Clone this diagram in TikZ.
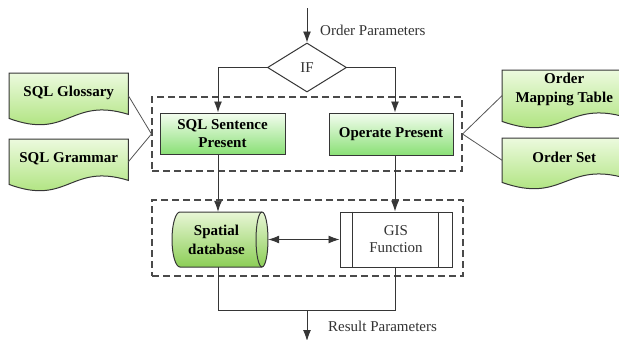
\documentclass[tikz,border=0pt]{standalone}
\usepackage{fontspec}
\setmainfont{Liberation Serif}
\usetikzlibrary{arrows.meta,shapes.geometric,backgrounds}

\definecolor{edge}{HTML}{363636}
\definecolor{ink}{HTML}{333333}
\definecolor{doctop}{RGB}{236,250,222}
\definecolor{docbot}{RGB}{160,222,104}
\definecolor{boxtop}{RGB}{244,253,240}
\definecolor{boxbot}{RGB}{138,224,118}
\definecolor{dbtop}{RGB}{232,246,214}
\definecolor{dbbot}{RGB}{140,206,86}

% document outline with a wavy lower edge, drawn round an invisible frame node
\newcommand\docoutline[1]{%
  \path[docshape] (#1.north west) -- (#1.north east) -- ([yshift=4pt]#1.south east)
    .. controls ([xshift=1.5pt,yshift=22pt]#1.south) and ([xshift=-0.5pt,yshift=-22pt]#1.south)
    .. (#1.south west) -- cycle;}

\begin{document}
\begin{tikzpicture}[x=1pt,y=-1pt,
  font=\fontsize{15}{18}\selectfont,
  line/.style={draw=edge, line width=0.9pt},
  arr/.style={line, -{Latex[length=11pt,width=8pt]}},
  darr/.style={line, {Latex[length=11pt,width=8pt]}-{Latex[length=11pt,width=8pt]}},
  thin/.style={draw=edge!85, line width=0.8pt},
  greenbox/.style={draw=edge, line width=1pt, top color=boxtop, bottom color=boxbot,
    font=\fontsize{15}{18}\selectfont\bfseries, align=center, inner sep=0pt},
  docframe/.style={inner sep=0pt, anchor=north west},
  doctext/.style={inner sep=0pt, align=center, font=\fontsize{15}{19}\selectfont\bfseries},
  docshape/.style={draw=edge, line width=1pt, top color=doctop, bottom color=docbot},
  dbshape/.style={draw=edge, line width=1pt, top color=dbtop, bottom color=dbbot},
  groupbox/.style={draw=edge!90, line width=1.1pt, dash pattern=on 7pt off 4pt, inner sep=0pt},
  plain/.style={text=ink, inner sep=0pt},
]
\useasboundingbox (0,0) rectangle (619,340);
\clip (0,0) rectangle (619,340);

% dashed groups
\node[groupbox, minimum width=310pt, minimum height=74pt] (g1) at (307,134) {};
\node[groupbox, minimum width=311pt, minimum height=76pt] (g2) at (307.5,238) {};

% decision
\node[diamond, draw=edge, line width=1pt, fill=white, minimum width=79pt,
  minimum height=49pt, inner sep=0pt, text=ink] (if) at (307,67.5) {IF};

% processing boxes
\node[greenbox, minimum width=125pt, minimum height=41pt] (sql) at (222.5,133.5) {SQL Sentence\\Present};
\node[greenbox, minimum width=124pt, minimum height=42pt] (op) at (391,134) {Operate Present};

% horizontal cylinder: rounded back on the left, open end on the right
\node[inner sep=0pt, minimum width=96pt, minimum height=55pt] (db) at (220,239.5) {};
\begin{scope}[shift={(db.center)}]
  \path[dbshape] (-40,-27.5) -- (42,-27.5)
    .. controls (45.31,-27.5) and (48,-15.19) .. (48,0)
    .. controls (48,15.19) and (45.31,27.5) .. (42,27.5)
    -- (-40,27.5)
    .. controls (-44.42,27.5) and (-48,15.19) .. (-48,0)
    .. controls (-48,-15.19) and (-44.42,-27.5) .. (-40,-27.5) -- cycle;
  \draw[draw=edge, line width=1pt] (42,-27.5)
    .. controls (38.69,-27.5) and (36,-15.19) .. (36,0)
    .. controls (36,15.19) and (38.69,27.5) .. (42,27.5);
\end{scope}
\node[inner sep=0pt, align=center, font=\fontsize{15}{19}\selectfont\bfseries]
  (db-t) at ([xshift=-3.5pt]db.center) {Spatial\\database};

\node[draw=edge, line width=1pt, fill=white, minimum width=112pt, minimum height=55pt,
  align=center, text=ink, inner sep=0pt, font=\fontsize{15}{17}\selectfont] (gis) at (396,239.5) {GIS\\Function};
\draw[line] ([xshift=13pt]gis.north west) -- ([xshift=13pt]gis.south west);
\draw[line] ([xshift=-14pt]gis.north east) -- ([xshift=-14pt]gis.south east);

% document frames
\node[docframe, minimum width=119pt, minimum height=45pt] (gloss) at (9,73) {};
\node[docframe, minimum width=119pt, minimum height=45pt] (gram) at (9,139) {};
\node[docframe, minimum width=124pt, minimum height=51pt] (map) at (502,70) {};
\node[docframe, minimum width=124pt, minimum height=44pt] (set) at (502,138) {};
\begin{scope}[on background layer]
  \docoutline{gloss}
  \docoutline{gram}
  \docoutline{map}
  \docoutline{set}
\end{scope}
\node[doctext] (gloss-t) at ([yshift=3pt]gloss.center) {SQL Glossary};
\node[doctext] (gram-t) at ([yshift=3pt]gram.center) {SQL Grammar};
\node[doctext] (map-t) at ([yshift=6pt]map.center) {Order\\Mapping Table};
\node[doctext] (set-t) at ([yshift=3pt]set.center) {Order Set};

% flow
\coordinate (in) at (307,8);
\coordinate (lb) at (218,67.5);
\coordinate (rb) at (395,67.5);
\coordinate (jn) at (307,310);
\coordinate (out) at (307,341);
\draw[arr] (in) -- (if.north);
\draw[arr] (if.west) -- (lb) -- (lb |- sql.north);
\draw[arr] (if.east) -- (rb) -- (rb |- op.north);
\draw[arr] (lb |- sql.south) -- (lb |- db.north);
\draw[arr] (rb |- op.south) -- (rb |- gis.north);
\draw[darr] (db.east) -- (gis.west);
\draw[line] (lb |- db.south) -- (lb |- jn) -- (rb |- jn) -- (rb |- gis.south);
\draw[arr] (jn) -- (out);

% resources attached to the groups
\draw[thin] (gloss.east) -- (g1.west) -- (gram.east);
\draw[thin] (map.west) -- (g1.east) -- (set.west);

% parameter labels
\node[plain, anchor=west] (in-lbl) at (320,30) {Order Parameters};
\node[plain, anchor=west] (out-lbl) at (328,326) {Result Parameters};
\end{tikzpicture}
\end{document}
